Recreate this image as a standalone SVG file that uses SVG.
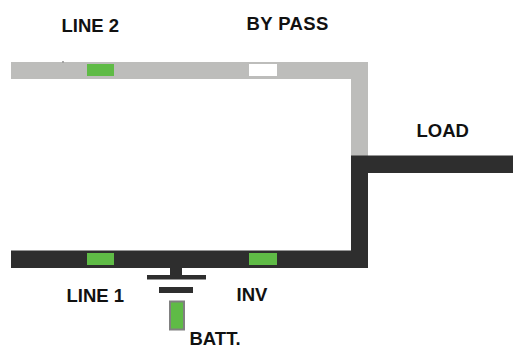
<svg xmlns="http://www.w3.org/2000/svg" width="513" height="349" viewBox="0 0 513 349">
<style>
.l{font-family:"Liberation Sans",Arial,sans-serif;font-size:18.500px;font-weight:bold;fill:#111}
.g{fill:#5fbb46}
.d{fill:#2e2e2e}
.y{fill:#bdbdbb}
</style>
<rect width="513" height="349" fill="#fff"/>
<g id="connectors">
<rect class="y" x="11" y="62" width="357" height="17"/>
<rect class="y" x="351" y="62" width="17" height="94"/>
<path class="d" d="M11 250.500H351V155.500H513V173H368V268H11Z"/>
<rect x="62.500" y="61" width="1" height="1.500" fill="#555"/>
</g>
<g id="line2"><rect class="g" x="87" y="64" width="27" height="12"/><text class="l" x="61.500" y="31.500">LINE 2</text></g>
<g id="bypass"><rect x="249" y="64" width="28" height="12" fill="#fff"/><text class="l" x="246.500" y="29.500" letter-spacing="0.400">BY PASS</text></g>
<g id="line1"><rect class="g" x="87" y="253" width="27" height="12"/><text class="l" x="66.500" y="302">LINE 1</text></g>
<g id="inv"><rect class="g" x="249" y="253" width="28" height="12"/><text class="l" x="236.500" y="301">INV</text></g>
<g id="load"><text class="l" x="416.500" y="136.500">LOAD</text></g>
<g id="batt">
<rect class="d" x="170" y="268" width="12" height="8"/>
<rect class="d" x="147" y="275" width="59" height="4.500"/>
<rect class="d" x="159" y="287" width="34" height="6"/>
<rect x="170" y="301.500" width="14" height="28" fill="#5fbb46" stroke="#808080" stroke-width="2"/>
<text class="l" x="189.500" y="345">BATT.</text>
</g>
</svg>
